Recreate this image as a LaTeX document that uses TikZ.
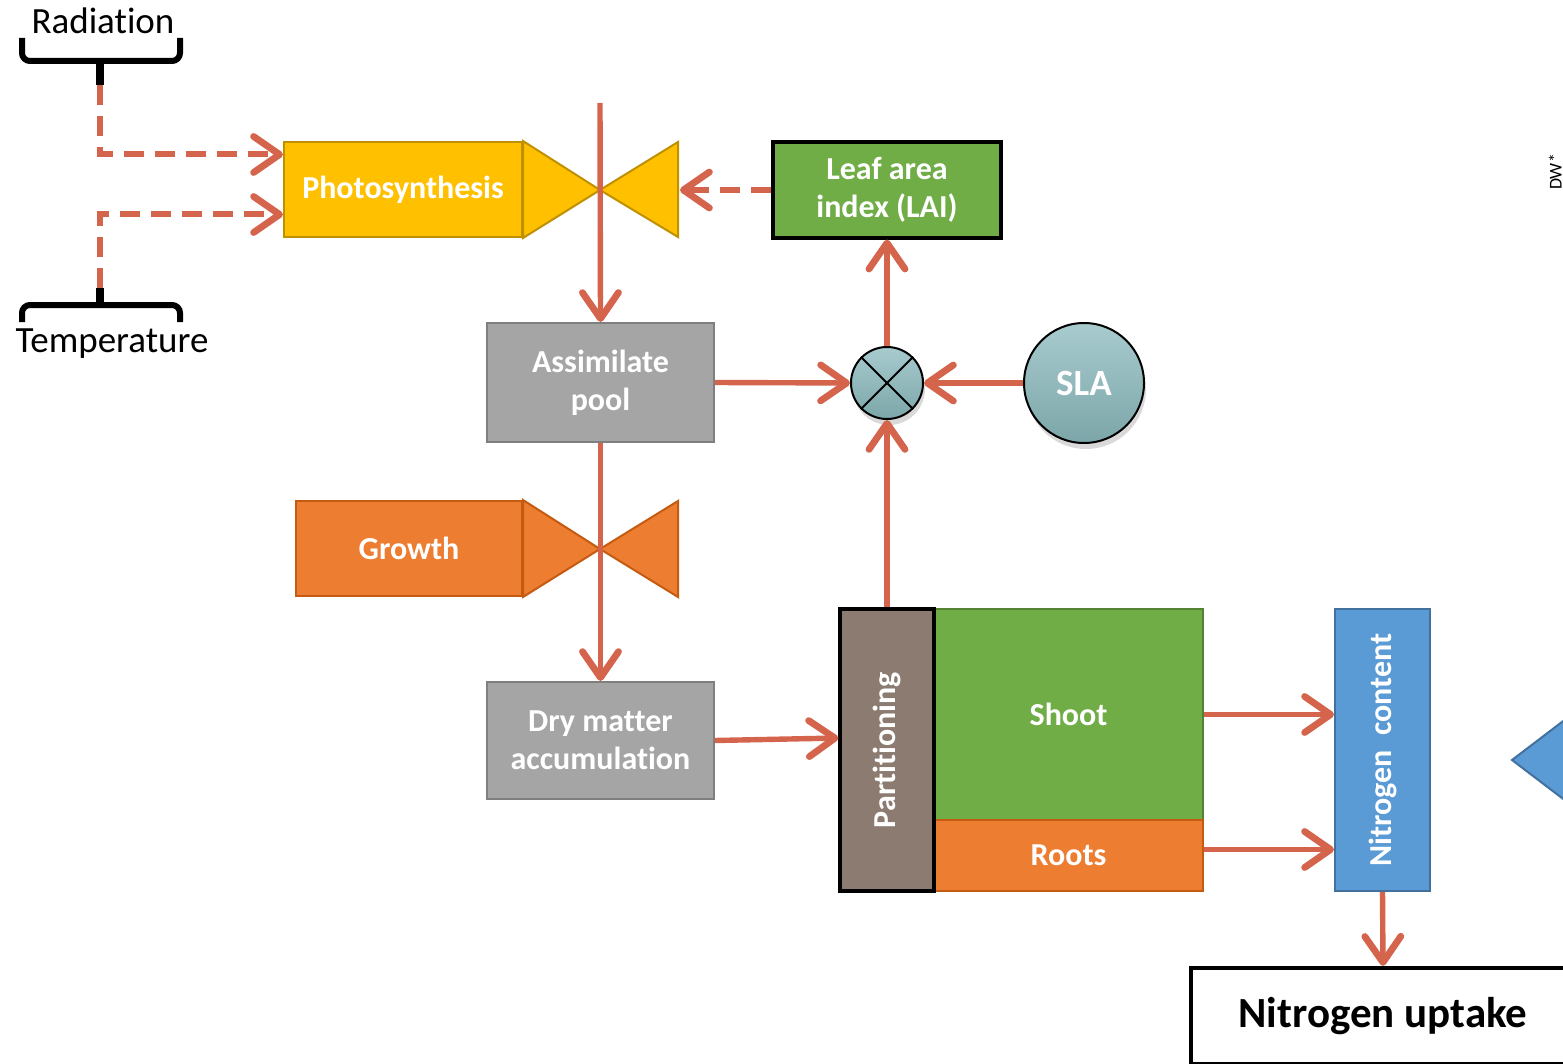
\documentclass[tikz,border=0pt]{standalone}
\usepackage{fontspec}
\setmainfont{Carlito}[Ligatures=NoCommon]
\usetikzlibrary{arrows.meta,shadows,calc}
\definecolor{arr}{RGB}{212,100,76}
\definecolor{gold}{RGB}{255,192,0}
\definecolor{golddk}{RGB}{191,144,0}
\definecolor{leafg}{RGB}{112,173,71}
\definecolor{leafgdk}{RGB}{84,130,53}
\definecolor{graybox}{RGB}{165,165,165}
\definecolor{graydk}{RGB}{127,127,127}
\definecolor{orng}{RGB}{237,125,49}
\definecolor{orngdk}{RGB}{197,90,17}
\definecolor{partc}{RGB}{139,123,112}
\definecolor{bluebox}{RGB}{91,155,213}
\definecolor{bluedk}{RGB}{65,113,156}
\definecolor{tealA}{RGB}{168,203,206}
\definecolor{tealB}{RGB}{124,166,169}
\tikzset{
  flow/.style={draw=arr, line width=2.7pt, -{Straight Barb[length=13pt,width=18pt,round,line width=3.4pt]}},
  dflow/.style={flow, line width=3pt, dash pattern=on 10pt off 5.5pt},
  blk/.style={inner sep=0pt, align=center, text=white, font=\fontsize{16}{19}\selectfont\bfseries, line width=1pt},
  brace/.style={draw=black, line width=3pt, rounded corners=4pt},
  circ/.style={circle, draw=black, line width=1pt, inner sep=0pt, top color=tealA, bottom color=tealB,
     drop shadow={opacity=0.3, shadow xshift=1pt, shadow yshift=-3pt}},
}
\begin{document}
\begin{tikzpicture}[x=0.5pt,y=-0.5pt]
\useasboundingbox (0,0) rectangle (1563,1064);
\clip (0,0) rectangle (1563,1064);
% labels and braces
\node[font=\fontsize{18.5}{21}\selectfont] (rad) at (103,21) {Radiation};
\node[font=\fontsize{18.5}{21}\selectfont] (temp) at (112,344) {Temperature};
\draw[brace] (22,38) -- (22,61) -- (180,61) -- (180,38);
\draw[draw=black, line width=4pt] (100,59) -- (100,85);
\draw[brace] (22,322) -- (22,305) -- (180,305) -- (180,322);
\draw[draw=black, line width=4pt] (100,307) -- (100,288);
\coordinate (radstem) at (100,85);
\coordinate (tempstem) at (100,288);
% photosynthesis and valve
\node[blk, fill=gold, draw=golddk, minimum width=119pt, minimum height=47.5pt] (photo) at (403,189.5) {Photosynthesis};
\coordinate (pvc) at (600,190);
\draw[fill=gold, draw=golddk, line width=1pt] (photo.north east) -- (photo.south east) -- (pvc) -- cycle;
\draw[fill=gold, draw=golddk, line width=1pt] (678,142) -- (678,237) -- (pvc) -- cycle;
\coordinate (pvr) at (680,190);
\coordinate (ptop) at (600,103);
% leaf area index
\node[blk, fill=leafg, draw=black, line width=1.6pt, minimum width=114pt, minimum height=48pt] (lai) at (887,190) {Leaf area\\index (LAI)};
% assimilate pool
\node[blk, fill=graybox, draw=graydk, minimum width=113.5pt, minimum height=59.5pt] (pool) at (600.5,382.5) {Assimilate\\pool};
% multiplier and SLA
\node[circ, minimum size=36pt] (mult) at (887,383) {};
\draw[black, line width=0.9pt] (mult.north east) -- (mult.south west);
\draw[black, line width=0.9pt] (mult.north west) -- (mult.south east);
\node[circ, minimum size=60pt, font=\fontsize{18.5}{20}\selectfont\bfseries, text=white] (sla) at (1084,383) {SLA};
% growth and valve
\node[blk, fill=orng, draw=orngdk, minimum width=113pt, minimum height=47.5pt] (growth) at (409,548.5) {Growth};
\coordinate (gvc) at (600,549);
\draw[fill=orng, draw=orngdk, line width=1pt] (growth.north east) -- (growth.south east) -- (gvc) -- cycle;
\draw[fill=orng, draw=orngdk, line width=1pt] (678,501) -- (678,597) -- (gvc) -- cycle;
% dry matter
\node[blk, fill=graybox, draw=graydk, minimum width=113.5pt, minimum height=58.5pt] (dry) at (600.5,740.5) {Dry matter\\accumulation};
% partitioning, shoot, roots
\node[blk, fill=leafg, draw=leafgdk, minimum width=134.5pt, minimum height=105.5pt] (shoot) at (1068.5,714.5) {Shoot};
\node[blk, fill=orng, draw=orngdk, minimum width=134.5pt, minimum height=35.5pt] (roots) at (1068.5,855.5) {Roots};
\node[blk, fill=partc, draw=black, line width=1.6pt, minimum width=47pt, minimum height=141pt] (part) at (887,750) {};
\node[blk, rotate=90] (partlbl) at (part.center) {Partitioning};
% nitrogen content
\node[blk, fill=bluebox, draw=bluedk, minimum width=47.5pt, minimum height=141pt] (ncont) at (1382.5,750) {};
\node[blk, rotate=90] (ncontlbl) at (ncont.center) {Nitrogen~~content};
% nitrogen uptake
\node[draw=black, line width=2.2pt, fill=white, minimum width=192pt, minimum height=48pt, inner sep=0pt,
      font=\fontsize{21.5}{24}\selectfont\bfseries] (uptake) at (1383,1016) {Nitrogen uptake};
% blue triangle at right edge
\draw[fill=bluebox, draw=bluedk, line width=1pt] (1512,760) -- (1600,693) -- (1600,827) -- cycle;
% small label at top right edge
\node[rotate=90, anchor=south, inner sep=0pt, font=\fontsize{9}{10}\selectfont] (dwlbl) at (1562,172) {DW*};
% connectors
\draw[dflow] (radstem) |- ([yshift=17.5pt]photo.west);
\draw[dflow] (tempstem) |- ([yshift=-12.5pt]photo.west);
\draw[dflow] (lai.west) -- (pvr);
\draw[flow] (ptop) -- (pool.north);
\draw[flow] (pool.south) -- (dry.north);
\draw[flow] (pool.east) -- (mult.west);
\draw[flow] (sla.west) -- (mult.east);
\draw[flow] (mult.north) -- (lai.south);
\draw[flow] (part.north) -- (mult.south);
\draw[flow] (dry.east) -- ([yshift=6pt]part.west);
\draw[flow] (shoot.east) -- (shoot.east -| ncont.west);
\draw[flow] ([yshift=3pt]roots.east) -- ([yshift=3pt]roots.east -| ncont.west);
\draw[flow] (ncont.south) -- (uptake.north);
\end{tikzpicture}
\end{document}
